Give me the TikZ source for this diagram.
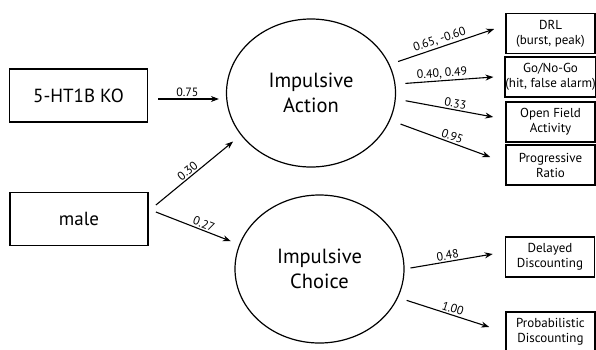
\documentclass[tikz,border=0pt]{standalone}
\usepackage{fontspec}
\setmainfont{PT Sans}
\usetikzlibrary{arrows.meta,shapes.geometric}
\begin{document}
\begin{tikzpicture}[x=1pt,y=-1pt,
  bigbox/.style={draw,line width=1.8pt,minimum width=138pt,minimum height=53pt,inner sep=0pt,font=\fontsize{19}{22}\selectfont},
  smallbox/.style={draw,line width=1.6pt,minimum width=89pt,minimum height=40pt,inner sep=0pt,align=center,font=\fontsize{13}{15}\selectfont},
  latent/.style={draw,ellipse,line width=1.2pt,minimum width=169pt,minimum height=148pt,inner sep=0pt,align=center,font=\fontsize{20.5}{25}\selectfont},
  arr/.style={line width=1.1pt,-{Stealth[length=8pt,width=6pt]}},
  lab/.style={font=\fontsize{12}{13}\selectfont,inner sep=1.5pt}]
\useasboundingbox (0,0) rectangle (596,349);
\clip (0,0) rectangle (596,349);
\node[bigbox] (ko) at (78.5,95.5) {5-HT1B KO};
\node[bigbox] (male) at (79,219) {male};
\node[latent] (act) at (311,93) {Impulsive\\Action};
\node[latent] (cho) at (319.5,269) {Impulsive\\Choice};
\node[smallbox] (drl) at (550.5,33.5) {DRL\\(burst, peak)};
\node[smallbox] (go) at (550.5,77) {Go/No-Go\\(hit, false alarm)};
\node[smallbox] (of) at (550.5,122) {Open Field\\Activity};
\node[smallbox] (pr) at (550.5,165) {Progressive\\Ratio};
\node[smallbox] (dd) at (550,257) {Delayed\\Discounting};
\node[smallbox] (pd) at (550.5,332) {Probabilistic\\Discounting};
\draw[arr] ([shift={(10,3.5)}]ko.east) -- node[lab,above,pos=0.48]{0.75} ([shift={(-7,6)}]act.west);
\draw[arr,shorten >=10pt] ([shift={(7,-14)}]male.east) -- node[lab,above,sloped,pos=0.42]{0.30} (act.211);
\draw[arr,shorten >=9pt] ([shift={(7,-7)}]male.east) -- node[lab,above,sloped,pos=0.55]{0.27} (cho.163);
\draw[arr,shorten <=9pt] (act.20) -- node[lab,above,sloped,pos=0.5]{0.65, -0.60} ([shift={(-11,-4.5)}]drl.west);
\draw[arr,shorten <=10pt] (act.6) -- node[lab,above,sloped,pos=0.48]{0.40, 0.49} ([shift={(-11,0)}]go.west);
\draw[arr,shorten <=10pt] (act.-4) -- node[lab,above,sloped,pos=0.6]{0.33} ([shift={(-12,-5)}]of.west);
\draw[arr,shorten <=11pt] (act.-19) -- node[lab,above,sloped,pos=0.6]{0.95} ([shift={(-15,-8)}]pr.west);
\draw[arr,shorten <=6pt] (cho.0) -- node[lab,above,sloped,pos=0.5]{0.48} ([shift={(-12,-3)}]dd.west);
\draw[arr,shorten <=9pt] (cho.-20) -- node[lab,above,sloped,pos=0.58]{1.00} ([shift={(-16,-5)}]pd.west);
\end{tikzpicture}
\end{document}
